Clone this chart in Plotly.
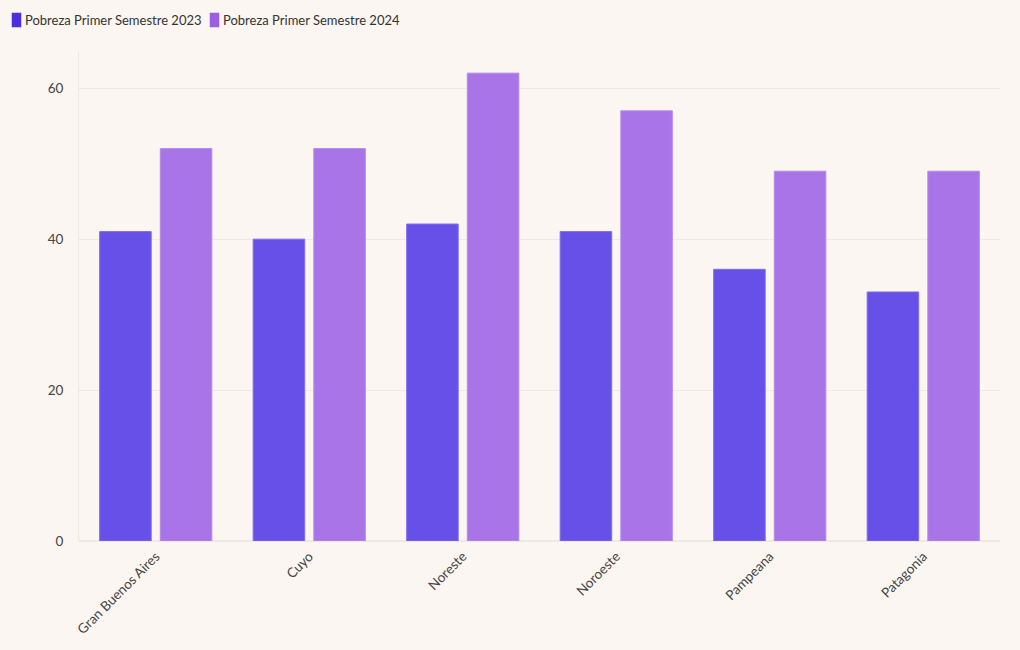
import plotly.graph_objects as go

categories = ["Gran Buenos Aires", "Cuyo", "Noreste", "Noroeste", "Pampeana", "Patagonia"]
pobreza_2023 = [41, 40, 42, 41, 36, 33]
pobreza_2024 = [52, 52, 62, 57, 49, 49]
series_names = ["Pobreza Primer Semestre 2023", "Pobreza Primer Semestre 2024"]
y_ticks = [0, 20, 40, 60]

FONT = "Lato"
BG = "#FBF6F1"
W, H = 1020, 650
ML, MR, MT, MB = 79, 20, 52, 109
PW, PH = W - ML - MR, H - MT - MB

bar_colors = ["#6650E8", "#A874E8"]
bar_lines = ["#7E6CEE", "#B58AEC"]
legend_colors = ["#4B30E0", "#9B5DE3"]

fig = go.Figure()
for name, vals, c, lc in zip(series_names, [pobreza_2023, pobreza_2024], bar_colors, bar_lines):
    fig.add_trace(go.Bar(x=categories, y=vals, name=name,
                         marker=dict(color=c, line=dict(color=lc, width=1))))


def px_x(px):
    return (px - ML) / PW


def px_y(py):
    return (H - MB - py) / PH


# custom legend (rounded swatches + labels)
legend_x = [12, 210]
for i, name in enumerate(series_names):
    x0 = legend_x[i]
    fig.add_shape(type="rect", xref="paper", yref="paper",
                  x0=px_x(x0 + 1), x1=px_x(x0 + 8), y0=px_y(26), y1=px_y(14),
                  fillcolor=legend_colors[i], line=dict(color=legend_colors[i], width=2.5))
    fig.add_annotation(text=name, xref="paper", yref="paper", x=px_x(x0 + 11), y=px_y(20),
                       xanchor="left", yanchor="middle", showarrow=False,
                       font=dict(family=FONT, size=13, color="#333333"))

fig.update_layout(
    width=W, height=H,
    paper_bgcolor=BG, plot_bgcolor=BG,
    font=dict(family=FONT, size=13, color="#333333"),
    margin=dict(l=ML, r=MR, t=MT, b=MB),
    barmode="group", bargap=0.21, bargroupgap=0.15,
    showlegend=False,
    xaxis=dict(tickangle=-45, showgrid=False, showline=False, ticks="",
               ticklabelstandoff=4, tickfont=dict(size=13.5, color="#444444")),
    yaxis=dict(range=[0, 64.8], tickvals=y_ticks, showgrid=True, gridcolor="#EFE9E4",
               zeroline=True, zerolinecolor="#EFE9E4", showline=True, linecolor="#EFE9E4",
               ticks="", ticklabelstandoff=12, tickfont=dict(size=13.5, color="#444444")),
)

fig.write_html("out.html", config={"displayModeBar": False},
               post_script="document.body.style.margin='0';document.body.style.background='#FBF6F1';")
